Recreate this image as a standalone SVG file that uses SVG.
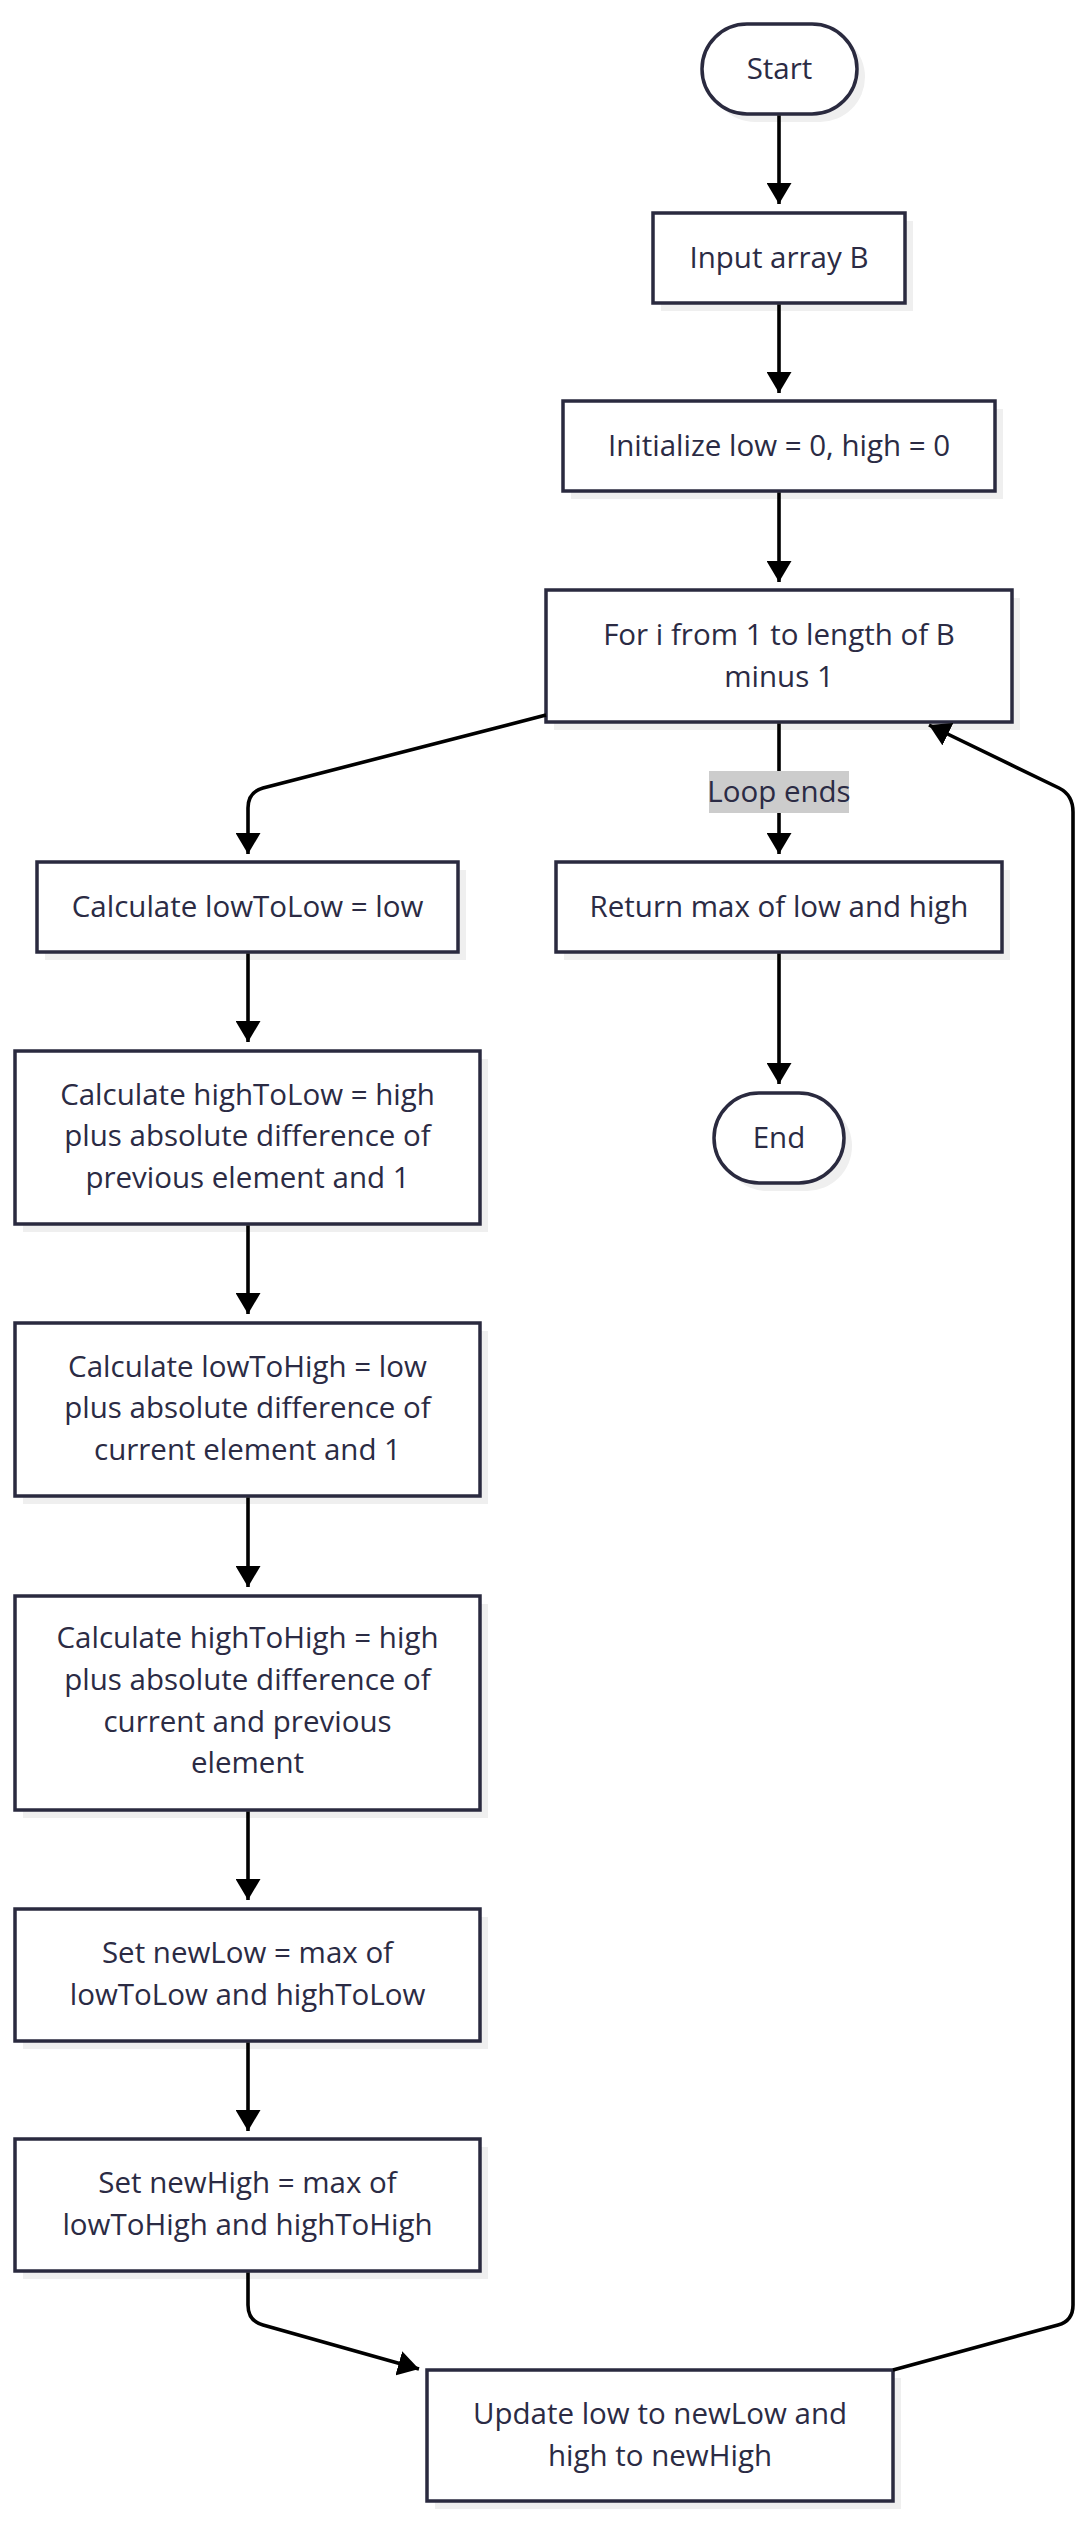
<svg xmlns="http://www.w3.org/2000/svg" width="1087" height="2526" viewBox="0 0 1087 2526">
<style>
.shadow{fill:#efefef;stroke:none}
.box{fill:#ffffff;stroke:#2a2a3f;stroke-width:3.5}
.t{font-family:"Open Sans","Noto Sans","Liberation Sans",sans-serif;font-size:29.5px;fill:#2b2b44;text-anchor:middle}
.edge{fill:none;stroke:#000000;stroke-width:3.6;stroke-linejoin:round}
.lbl{fill:#cccccc;stroke:none}
</style>
<defs>
<marker id="arr" viewBox="0 0 21 25" refX="21" refY="12.5" markerWidth="21" markerHeight="25" markerUnits="userSpaceOnUse" orient="auto">
<path d="M0,0 L21,12.5 L0,25 z" fill="#000000"/>
</marker>
</defs>
<rect width="1087" height="2526" fill="#ffffff"/>
<g id="start">
<rect class="shadow" x="710" y="32" width="155" height="90" rx="45"/>
<rect class="box" x="702" y="24" width="155" height="90" rx="45"/>
<text class="t" x="779.5" y="79">Start</text>
</g>
<g id="input">
<rect class="shadow" x="661" y="221" width="252" height="90"/>
<rect class="box" x="653" y="213" width="252" height="90"/>
<text class="t" x="779" y="268">Input array B</text>
</g>
<g id="init">
<rect class="shadow" x="571" y="409" width="432" height="90"/>
<rect class="box" x="563" y="401" width="432" height="90"/>
<text class="t" x="779" y="456">Initialize low = 0, high = 0</text>
</g>
<g id="loop">
<rect class="shadow" x="554" y="598" width="466" height="132"/>
<rect class="box" x="546" y="590" width="466" height="132"/>
<text class="t" x="779" y="645">For i from 1 to length of B</text>
<text class="t" x="779" y="687">minus 1</text>
</g>
<g id="lowToLow">
<rect class="shadow" x="45" y="870" width="421" height="90"/>
<rect class="box" x="37" y="862" width="421" height="90"/>
<text class="t" x="247.5" y="917">Calculate lowToLow = low</text>
</g>
<g id="return">
<rect class="shadow" x="564" y="870" width="446" height="90"/>
<rect class="box" x="556" y="862" width="446" height="90"/>
<text class="t" x="779" y="917">Return max of low and high</text>
</g>
<g id="end">
<rect class="shadow" x="722" y="1101" width="130" height="90" rx="45"/>
<rect class="box" x="714" y="1093" width="130" height="90" rx="45"/>
<text class="t" x="779" y="1148">End</text>
</g>
<g id="highToLow">
<rect class="shadow" x="23" y="1059" width="465" height="173"/>
<rect class="box" x="15" y="1051" width="465" height="173"/>
<text class="t" x="247.5" y="1105">Calculate highToLow = high</text>
<text class="t" x="247.5" y="1146">plus absolute difference of</text>
<text class="t" x="247.5" y="1188">previous element and 1</text>
</g>
<g id="lowToHigh">
<rect class="shadow" x="23" y="1331" width="465" height="173"/>
<rect class="box" x="15" y="1323" width="465" height="173"/>
<text class="t" x="247.5" y="1377">Calculate lowToHigh = low</text>
<text class="t" x="247.5" y="1418">plus absolute difference of</text>
<text class="t" x="247.5" y="1460">current element and 1</text>
</g>
<g id="highToHigh">
<rect class="shadow" x="23" y="1604" width="465" height="214"/>
<rect class="box" x="15" y="1596" width="465" height="214"/>
<text class="t" x="247.5" y="1648">Calculate highToHigh = high</text>
<text class="t" x="247.5" y="1690">plus absolute difference of</text>
<text class="t" x="247.5" y="1732">current and previous</text>
<text class="t" x="247.5" y="1773">element</text>
</g>
<g id="newLow">
<rect class="shadow" x="23" y="1917" width="465" height="132"/>
<rect class="box" x="15" y="1909" width="465" height="132"/>
<text class="t" x="247.5" y="1963">Set newLow = max of</text>
<text class="t" x="247.5" y="2005">lowToLow and highToLow</text>
</g>
<g id="newHigh">
<rect class="shadow" x="23" y="2147" width="465" height="132"/>
<rect class="box" x="15" y="2139" width="465" height="132"/>
<text class="t" x="247.5" y="2193">Set newHigh = max of</text>
<text class="t" x="247.5" y="2235">lowToHigh and highToHigh</text>
</g>
<g id="update">
<rect class="shadow" x="435" y="2378" width="466" height="131"/>
<rect class="box" x="427" y="2370" width="466" height="131"/>
<text class="t" x="660" y="2424">Update low to newLow and</text>
<text class="t" x="660" y="2466">high to newHigh</text>
</g>
<g id="connectors">
<path class="edge" d="M779,115.5 L779,204" marker-end="url(#arr)"/>
<path class="edge" d="M779,304.5 L779,393" marker-end="url(#arr)"/>
<path class="edge" d="M779,492.5 L779,582" marker-end="url(#arr)"/>
<path class="edge" d="M546,715 L263,788 Q248,792 248,808 L248,854" marker-end="url(#arr)"/>
<path class="edge" d="M779,723.5 L779,854" marker-end="url(#arr)"/>
<path class="edge" d="M779,953.5 L779,1084" marker-end="url(#arr)"/>
<path class="edge" d="M248,953.5 L248,1042" marker-end="url(#arr)"/>
<path class="edge" d="M248,1225.5 L248,1314" marker-end="url(#arr)"/>
<path class="edge" d="M248,1497.5 L248,1587" marker-end="url(#arr)"/>
<path class="edge" d="M248,1811.5 L248,1900" marker-end="url(#arr)"/>
<path class="edge" d="M248,2042.5 L248,2131" marker-end="url(#arr)"/>
<path class="edge" d="M248,2272.5 L248,2305 Q248,2321 263,2325 L419,2369" marker-end="url(#arr)"/>
<path class="edge" d="M893,2370 L1058,2325 Q1073,2321 1073,2305 L1073,812 Q1073,795 1059,788 L929,725" marker-end="url(#arr)"/>
<g id="label-loop-ends">
<rect class="lbl" x="709" y="771" width="140" height="42"/>
<text class="t" x="779" y="802">Loop ends</text>
</g>
</g>
</svg>
